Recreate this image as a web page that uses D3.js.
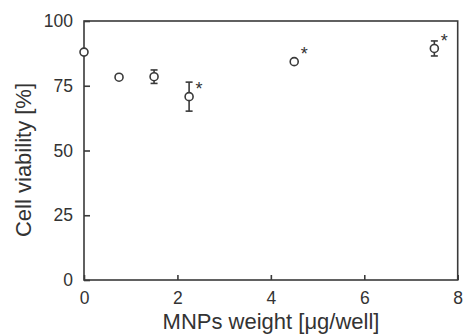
<!DOCTYPE html>
<html><head><meta charset="utf-8">
<script src="https://cdn.jsdelivr.net/npm/d3@7"></script>
<style>body{margin:0;background:#fff}svg{display:block}text{font-family:"Liberation Sans",Arial,sans-serif;fill:#333}</style>
</head><body>
<svg id="c" width="463" height="335"></svg>
<script>
const doses = [0, 0.75, 1.5, 2.25, 4.5, 7.5];
const viability = [88, 78.3, 78.5, 70.8, 84.3, 89.4];
const errors = [0, 0, 2.6, 5.6, 0, 2.9];
const significant = [false, false, false, true, true, true];
const xTicks = [0, 2, 4, 6, 8];
const yTicks = [0, 25, 50, 75, 100];

const svg = d3.select("#c");
const m = {l:84, r:5.3, t:21, b:55};
const W = 463, H = 335;
const x = d3.scaleLinear().domain([0,8]).range([m.l, W-m.r]);
const y = d3.scaleLinear().domain([0,100]).range([H-m.b, m.t]);
const col = "#3a3a3a";
const pts = doses.map((d,i)=>({d,v:viability[i],e:errors[i],s:significant[i]}));

svg.append("rect").attr("x", x(0)).attr("y", y(100)).attr("width", x(8)-x(0)).attr("height", y(0)-y(100))
  .attr("fill","none").attr("stroke",col).attr("stroke-width",1.6);

const xa = svg.append("g").attr("transform",`translate(0,${y(0)})`)
  .call(d3.axisBottom(x).tickValues(xTicks).tickSize(-5).tickPadding(12).tickFormat(d3.format("d")));
const ya = svg.append("g").attr("transform",`translate(${x(0)},0)`)
  .call(d3.axisLeft(y).tickValues(yTicks).tickSize(-6).tickPadding(11).tickFormat(d3.format("d")));
[xa,ya].forEach(a=>{
  a.select(".domain").remove();
  a.selectAll(".tick line").attr("stroke",col).attr("stroke-width",1.6);
  a.selectAll(".tick text").attr("font-size",17.5).attr("fill","#333").style("font-family",'"Liberation Sans",Arial,sans-serif');
});

const eb = svg.append("g").selectAll("g").data(pts.filter(o=>o.e>0)).join("g");
eb.append("line").attr("x1",o=>x(o.d)).attr("x2",o=>x(o.d)).attr("y1",o=>y(o.v+o.e)).attr("y2",o=>y(o.v-o.e)).attr("stroke",col).attr("stroke-width",1.6);
eb.append("line").attr("x1",o=>x(o.d)-3.5).attr("x2",o=>x(o.d)+3.5).attr("y1",o=>y(o.v+o.e)).attr("y2",o=>y(o.v+o.e)).attr("stroke",col).attr("stroke-width",1.6);
eb.append("line").attr("x1",o=>x(o.d)-3.5).attr("x2",o=>x(o.d)+3.5).attr("y1",o=>y(o.v-o.e)).attr("y2",o=>y(o.v-o.e)).attr("stroke",col).attr("stroke-width",1.6);

svg.append("g").selectAll("circle").data(pts).join("circle")
  .attr("cx",o=>x(o.d)).attr("cy",o=>y(o.v)).attr("r",4)
  .attr("fill","#fff").attr("stroke",col).attr("stroke-width",1.6);

svg.append("g").selectAll("text").data(pts.filter(o=>o.s)).join("text")
  .attr("x",o=>x(o.d)+10).attr("y",o=>y(o.v)-1.6).attr("text-anchor","middle")
  .attr("font-size",18).text("*");

svg.append("text").attr("x",271).attr("y",329).attr("text-anchor","middle").attr("font-size",22)
  .text("MNPs weight [μg/well]");
svg.append("text").attr("transform","translate(31,160) rotate(-90)").attr("text-anchor","middle").attr("font-size",22)
  .text("Cell viability [%]");
</script>
</body></html>
